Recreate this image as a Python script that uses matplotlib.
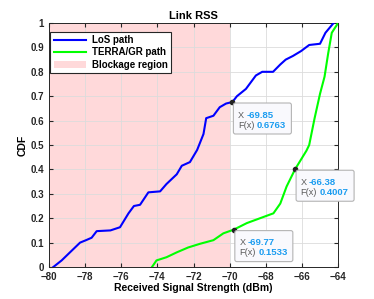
import matplotlib.pyplot as plt
from matplotlib.patches import FancyBboxPatch
from matplotlib.transforms import IdentityTransform

plt.rcParams['font.family'] = ['Liberation Sans', 'DejaVu Sans']

# LoS path CDF points
los_x = [-79.76, -79.3, -78.84, -78.28, -77.95, -77.64, -77.36, -76.6, -76.07, -75.6,
         -75.3, -74.96, -74.5, -73.85, -73.5, -72.93, -72.65, -72.2, -71.8, -71.45,
         -71.3, -70.9, -70.55, -70.2, -69.85, -69.6, -69.1, -68.7, -68.55, -68.2,
         -67.6, -67.2, -66.9, -66.5, -66.05, -65.6, -65.0, -64.7, -64.25]
los_y = [0.0, 0.027, 0.06, 0.10, 0.11, 0.12, 0.147, 0.15, 0.163, 0.22,
         0.25, 0.255, 0.306, 0.31, 0.34, 0.38, 0.415, 0.43, 0.48, 0.545,
         0.61, 0.62, 0.655, 0.67, 0.6763, 0.70, 0.73, 0.77, 0.785, 0.80,
         0.80, 0.83, 0.85, 0.865, 0.885, 0.91, 0.915, 0.96, 1.0]

# TERRA/GR path CDF points
gr_x = [-74.3, -74.05, -73.5, -72.93, -72.3, -71.65, -70.9, -70.35, -69.77, -69.05,
        -68.5, -67.95, -67.58, -67.2, -66.85, -66.38, -65.75, -65.6, -65.3, -65.0,
        -64.75, -64.55, -64.35, -64.0]
gr_y = [0.0, 0.027, 0.04, 0.06, 0.08, 0.095, 0.11, 0.138, 0.1533, 0.18,
        0.195, 0.21, 0.22, 0.26, 0.33, 0.4007, 0.477, 0.50, 0.61, 0.71,
        0.78, 0.875, 0.96, 1.0]

# data tips
tips_x = [-69.85, -66.38, -69.77]
tips_y = [0.6763, 0.4007, 0.1533]

fig = plt.figure(figsize=(3.74, 2.99), dpi=100)
ax = fig.add_axes([0.131, 0.107, 0.773, 0.816])

ax.axvspan(-80, -70, color='#ffd9da', lw=0, label='Blockage region', zorder=0)
ax.plot(los_x, los_y, color='#0000ff', lw=1.5, label='LoS path', zorder=3)
ax.plot(gr_x, gr_y, color='#00ff00', lw=1.5, label='TERRA/GR path', zorder=3)

ax.set_xlim(-80, -64)
ax.set_ylim(0, 1)

for tx, ty in zip(tips_x, tips_y):
    ax.plot(tx, ty, 'o', color='#222222', ms=3, zorder=5)
    px, py = ax.transData.transform((tx, ty))
    box = FancyBboxPatch((px + 1, py - 32), 58, 31,
                         boxstyle='round,pad=0,rounding_size=2',
                         fc='#f9f9fd', ec='#b4b4b4', lw=0.8,
                         transform=IdentityTransform(), clip_on=False, zorder=6)
    ax.add_patch(box)
    ax.annotate('X', (tx, ty), xytext=(4.0, -9.4), textcoords='offset points',
                fontsize=6.6, color='#5a5a5a', va='center', zorder=7)
    ax.annotate('%.2f' % tx, (tx, ty), xytext=(10.1, -9.4), textcoords='offset points',
                fontsize=6.8, color='#1a9cf0', fontweight='bold', va='center', zorder=7)
    ax.annotate('F(x)', (tx, ty), xytext=(4.0, -16.6), textcoords='offset points',
                fontsize=6.6, color='#5a5a5a', va='center', zorder=7)
    ax.annotate('%.4f' % ty, (tx, ty), xytext=(17.5, -16.6), textcoords='offset points',
                fontsize=6.8, color='#1a9cf0', fontweight='bold', va='center', zorder=7)

ax.set_xticks(range(-80, -63, 2))
ax.set_yticks([0, 0.1, 0.2, 0.3, 0.4, 0.5, 0.6, 0.7, 0.8, 0.9, 1])
ax.set_yticklabels(['0', '0.1', '0.2', '0.3', '0.4', '0.5', '0.6', '0.7', '0.8', '0.9', '1'])
ax.grid(True, color='#dcdcdc', lw=0.6, zorder=1)
ax.set_axisbelow(True)
ax.tick_params(direction='in', length=3, labelsize=7, colors='#262626', top=True, right=True)
for lab in ax.get_xticklabels() + ax.get_yticklabels():
    lab.set_fontweight('bold')
for sp in ax.spines.values():
    sp.set_color('#262626')
    sp.set_linewidth(0.7)

ax.set_title('Link RSS', fontsize=8, fontweight='bold', pad=3)
ax.set_xlabel('Received Signal Strength (dBm)', fontsize=7.5, fontweight='bold', labelpad=1)
ax.set_ylabel('CDF', fontsize=7.5, fontweight='bold', labelpad=2)

leg = ax.legend(handles=[ax.lines[0], ax.lines[1], ax.patches[0]],
                loc='upper left', bbox_to_anchor=(0.005, 0.965), fontsize=7, frameon=True,
                fancybox=False, edgecolor='#262626', framealpha=1, handlelength=3.3, borderpad=0.35,
                labelspacing=0.25, handletextpad=0.6, borderaxespad=0)
leg.get_frame().set_linewidth(0.8)
for t in leg.get_texts():
    t.set_fontweight('bold')

fig.savefig('out.png', dpi=100)
